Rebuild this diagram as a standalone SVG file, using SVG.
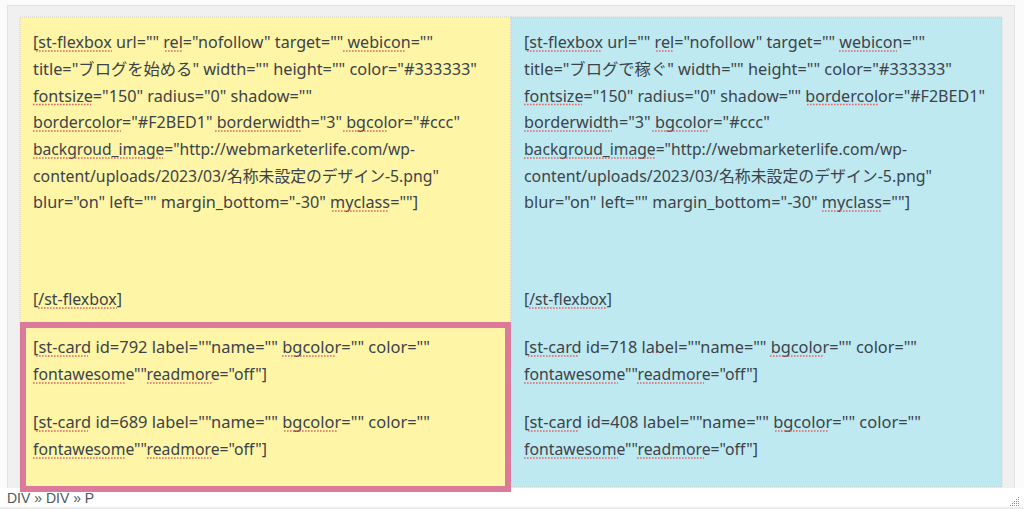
<svg xmlns="http://www.w3.org/2000/svg" width="1024" height="509" viewBox="0 0 1024 509">
<style>
.t{font-family:"Noto Sans","Noto Sans CJK JP",sans-serif;font-size:16px;fill:#3c434a}
.st{font-family:"Liberation Sans",Arial,sans-serif;font-size:14px;fill:#50575e}
.u{stroke:#e06767;stroke-width:1.6;stroke-dasharray:1.6 1.4;fill:none}
.dot{stroke:#cfcfcf;stroke-width:1;stroke-dasharray:1 1}
</style>
<rect x="0" y="0" width="1024" height="509" fill="#fbfbfb"/>
<rect x="7.5" y="5.5" width="1007" height="483" fill="#f0f0f1" class="dot"/>
<g id="status-bar">
<rect x="0" y="488" width="1024" height="20" fill="#ffffff"/>
<line x1="0" y1="508" x2="1024" y2="508" stroke="#dcdcde" stroke-width="1"/>
<text class="st" x="7" y="503">DIV » DIV » P</text>
<g fill="#8c8f94">
<rect x="1018" y="497" width="1" height="1"/>
<rect x="1016" y="499" width="1" height="1"/><rect x="1018" y="499" width="1" height="1"/>
<rect x="1014" y="501" width="1" height="1"/><rect x="1016" y="501" width="1" height="1"/><rect x="1018" y="501" width="1" height="1"/>
<rect x="1012" y="503" width="1" height="1"/><rect x="1014" y="503" width="1" height="1"/><rect x="1016" y="503" width="1" height="1"/><rect x="1018" y="503" width="1" height="1"/>
<rect x="1010" y="505" width="1" height="1"/><rect x="1012" y="505" width="1" height="1"/><rect x="1014" y="505" width="1" height="1"/><rect x="1016" y="505" width="1" height="1"/><rect x="1018" y="505" width="1" height="1"/>
</g>
</g>
<g id="left-panel">
<rect x="20" y="17" width="491" height="470" fill="#fef5a6" class="dot"/>
<text class="t" x="33" y="48" textLength="400" lengthAdjust="spacingAndGlyphs">[st-flexbox url="" rel="nofollow" target="" webicon=""</text>
<text class="t" x="33" y="75" textLength="444" lengthAdjust="spacingAndGlyphs">title="ブログを始める" width="" height="" color="#333333"</text>
<text class="t" x="33" y="101.5" textLength="279" lengthAdjust="spacingAndGlyphs">fontsize="150" radius="0" shadow=""</text>
<text class="t" x="33" y="128" textLength="427" lengthAdjust="spacingAndGlyphs">bordercolor="#F2BED1" borderwidth="3" bgcolor="#ccc"</text>
<text class="t" x="33" y="155" textLength="382" lengthAdjust="spacingAndGlyphs">backgroud_image="http://webmarketerlife.com/wp-</text>
<text class="t" x="33" y="181.5" textLength="406" lengthAdjust="spacingAndGlyphs">content/uploads/2023/03/名称未設定のデザイン-5.png"</text>
<text class="t" x="33" y="208" textLength="385" lengthAdjust="spacingAndGlyphs">blur="on" left="" margin_bottom="-30" myclass=""]</text>
<text class="t" x="33" y="305" textLength="89" lengthAdjust="spacingAndGlyphs">[/st-flexbox]</text>
<text class="t" x="33" y="353" textLength="397" lengthAdjust="spacingAndGlyphs">[st-card id=792 label=""name="" bgcolor="" color=""</text>
<text class="t" x="33" y="380" textLength="234" lengthAdjust="spacingAndGlyphs">fontawesome""readmore="off"]</text>
<text class="t" x="33" y="428" textLength="397" lengthAdjust="spacingAndGlyphs">[st-card id=689 label=""name="" bgcolor="" color=""</text>
<text class="t" x="33" y="455" textLength="234" lengthAdjust="spacingAndGlyphs">fontawesome""readmore="off"]</text>
<path class="u" d="M36 51H112M165 51H182M343 51H406M33 104.5H91M33 131H121M215 131H302M343 131H387M33 158H163M332 211H388M38 308H117M36 356H88M282 356H336M33 383H126M147 383H213M36 431H88M284 431H338M33 458H126M147 458H213"/>
</g>
<g id="right-panel">
<rect x="511" y="17" width="491" height="470" fill="#bee9f0" class="dot"/>
<text class="t" x="524" y="48" textLength="401" lengthAdjust="spacingAndGlyphs">[st-flexbox url="" rel="nofollow" target="" webicon=""</text>
<text class="t" x="524" y="75" textLength="428" lengthAdjust="spacingAndGlyphs">title="ブログで稼ぐ" width="" height="" color="#333333"</text>
<text class="t" x="524" y="101.5" textLength="461" lengthAdjust="spacingAndGlyphs">fontsize="150" radius="0" shadow="" bordercolor="#F2BED1"</text>
<text class="t" x="524" y="128" textLength="246" lengthAdjust="spacingAndGlyphs">borderwidth="3" bgcolor="#ccc"</text>
<text class="t" x="524" y="155" textLength="383" lengthAdjust="spacingAndGlyphs">backgroud_image="http://webmarketerlife.com/wp-</text>
<text class="t" x="524" y="181.5" textLength="408" lengthAdjust="spacingAndGlyphs">content/uploads/2023/03/名称未設定のデザイン-5.png"</text>
<text class="t" x="524" y="208" textLength="386" lengthAdjust="spacingAndGlyphs">blur="on" left="" margin_bottom="-30" myclass=""]</text>
<text class="t" x="524" y="305" textLength="88" lengthAdjust="spacingAndGlyphs">[/st-flexbox]</text>
<text class="t" x="524" y="353" textLength="393" lengthAdjust="spacingAndGlyphs">[st-card id=718 label=""name="" bgcolor="" color=""</text>
<text class="t" x="524" y="380" textLength="234" lengthAdjust="spacingAndGlyphs">fontawesome""readmore="off"]</text>
<text class="t" x="524" y="428" textLength="397" lengthAdjust="spacingAndGlyphs">[st-card id=408 label=""name="" bgcolor="" color=""</text>
<text class="t" x="524" y="455" textLength="234" lengthAdjust="spacingAndGlyphs">fontawesome""readmore="off"]</text>
<path class="u" d="M527 51H602M656 51H673M839 51H897M524 104.5H582M807 104.5H879M524 131H612M652 131H709M524 158H655M822 211H882M529 308H607M528 356H578M770 356H823M524 383H618M637 383H704M528 431H578M775 431H828M524 458H618M637 458H704"/>
</g>
<g id="selection-highlight">
<rect x="23" y="325" width="485" height="164" fill="none" stroke="#dc7a9c" stroke-width="6"/>
</g>
</svg>
